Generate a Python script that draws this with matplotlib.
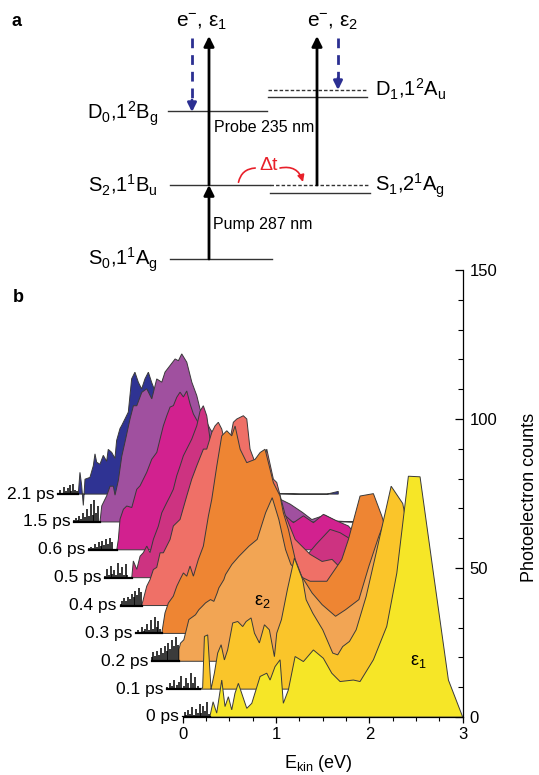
import numpy as np
import matplotlib
matplotlib.use("Agg")
import matplotlib.pyplot as plt
from matplotlib.patches import FancyArrowPatch

plt.rcParams["font.family"] = ["Liberation Sans", "DejaVu Sans"]
plt.rcParams["mathtext.fontset"] = "custom"
plt.rcParams["mathtext.rm"] = "Liberation Sans"
plt.rcParams["mathtext.it"] = "Liberation Sans:italic"
plt.rcParams["mathtext.bf"] = "Liberation Sans:bold"

# ---- panel b data: photoelectron spectra, energy (eV) and counts per delay ----
DELAYS = ["0 ps", "0.1 ps", "0.2 ps", "0.3 ps", "0.4 ps", "0.5 ps", "0.6 ps", "1.5 ps", "2.1 ps"]
COLORS = ["#f6e627", "#fac52a", "#f2a554", "#ee8533", "#ef7067",
          "#cd3381", "#d2218f", "#a0509f", "#2f3393"]
FILL_FROM = [0.29, 0.356, 0.292, 0.275, 0.227, 0.287, 0.293, 0.28, 0.214]

E_0PS = [0.0, 0.02, 0.04, 0.06, 0.08, 0.10, 0.12, 0.14, 0.16, 0.18, 0.20, 0.22, 0.24, 0.26, 0.28,
         0.29, 0.325, 0.364, 0.418, 0.453, 0.489, 0.525, 0.56, 0.596, 0.686, 0.74, 0.829, 0.9,
         0.936, 0.989, 1.043, 1.078, 1.132, 1.204, 1.293, 1.4, 1.507, 1.597, 1.686, 1.829, 1.9,
         2.043, 2.186, 2.294, 2.418, 2.543, 2.686, 2.847, 3.0]
C_0PS = [0.5, 1.8, 0.6, 2.4, 1.0, 3.2, 0.8, 2.6, 1.5, 4.2, 1.2, 3.6, 2.0, 5.0, 1.0,
         0, 5.1, 1.3, 12.4, 3.5, 6.8, 2.4, 8.0, 11.3, 2.9, 4.6, 13.6, 14.7,
         12.4, 16.9, 19.2, 4.6, 9.1, 20.3, 18.6, 22.5, 19.7, 14.7, 11.9, 12.4, 11.9,
         19.2, 30.4, 48.3, 80.8, 80.6, 48.3, 12.4, 0]

E_01PS = [0.0, 0.025, 0.05, 0.075, 0.1, 0.125, 0.15, 0.175, 0.2, 0.225, 0.25, 0.275, 0.3, 0.325,
          0.356, 0.38, 0.399, 0.434, 0.47, 0.506, 0.541, 0.578, 0.613, 0.648, 0.702, 0.756, 0.809,
          0.846, 0.899, 0.935, 0.988, 1.042, 1.095, 1.149, 1.174, 1.224, 1.288, 1.363, 1.452, 1.489,
          1.56, 1.667, 1.774, 1.827, 1.881, 1.953, 2.025, 2.132, 2.239, 2.4, 2.524, 2.703, 2.917, 3.0]
C_01PS = [0.8, 2.0, 1.0, 3.0, 1.5, 2.5, 4.5, 1.2, 3.8, 2.0, 5.5, 2.2, 4.0, 1.0,
          0, 0.5, 17.7, 18.2, 0, 5.4, 12.1, 14.9, 9.8, 13.2, 22.2, 22.7, 21.0,
          22.7, 23.9, 18.8, 15.5, 21.6, 19.9, 10.9, 18.8, 23.3, 33.4, 44.0, 36.7, 30.0,
          25.5, 19.9, 12.1, 11.5, 14.3, 16.0, 19.9, 31.1, 45.7, 68.1, 62.3, 33.4, 6.5, 0]

E_02PS = [0.0, 0.02, 0.04, 0.06, 0.08, 0.1, 0.12, 0.14, 0.16, 0.18, 0.2, 0.22, 0.24, 0.26, 0.28,
          0.292, 0.31, 0.345, 0.399, 0.47, 0.506, 0.541, 0.578, 0.631, 0.667, 0.702, 0.72, 0.774,
          0.792, 0.86, 0.935, 1.042, 1.131, 1.221, 1.292, 1.363, 1.435, 1.492, 1.596, 1.72, 1.827,
          1.971, 2.078, 2.221, 2.328, 2.435, 2.564, 2.703, 2.864, 3.0]
C_02PS = [1.5, 3.0, 1.8, 3.5, 2.2, 4.5, 2.8, 5.0, 3.5, 6.0, 4.0, 7.0, 5.0, 8.0, 5.5,
          4.0, 6.1, 7.2, 14.0, 15.6, 17.3, 18.4, 19.6, 20.7, 20.1, 22.9, 24.6, 27.4,
          29.1, 32.5, 35.2, 38.6, 40.9, 49.8, 54.9, 47.6, 37.5, 32.5, 29.1, 22.9, 19.0,
          15.1, 17.3, 20.7, 31.9, 42.0, 52.6, 47.6, 20.7, 0]

E_03PS = [0.0, 0.02, 0.04, 0.06, 0.08, 0.1, 0.12, 0.14, 0.16, 0.18, 0.2, 0.22, 0.24, 0.26,
          0.275, 0.31, 0.346, 0.399, 0.436, 0.471, 0.507, 0.543, 0.578, 0.614, 0.667, 0.721,
          0.775, 0.811, 0.865, 0.918, 0.972, 1.025, 1.061, 1.115, 1.186, 1.275, 1.329, 1.382,
          1.418, 1.471, 1.543, 1.578, 1.632, 1.706, 1.779, 1.865, 2.044, 2.204, 2.275, 2.4,
          2.543, 2.633, 2.776, 2.937, 3.0]
C_03PS = [0.5, 1.2, 0.6, 2.0, 0.8, 1.5, 3.0, 1.0, 4.5, 1.5, 5.6, 2.0, 4.0, 1.5,
          0, 6.9, 10.2, 12.5, 15.8, 18.1, 20.3, 19.2, 22.6, 19.2, 24.8, 29.3,
          39.4, 45.0, 56.2, 66.3, 68.0, 66.3, 69.6, 61.8, 57.3, 58.4, 60.7, 61.8,
          57.3, 50.6, 46.1, 40.5, 34.9, 24.8, 18.8, 17.5, 17.5, 24.8, 31.5, 46.1,
          46.9, 39.4, 24.8, 8.0, 0]

E_04PS = [0.0, 0.02, 0.04, 0.06, 0.08, 0.1, 0.12, 0.14, 0.16, 0.18, 0.2, 0.22,
          0.227, 0.281, 0.316, 0.352, 0.388, 0.424, 0.459, 0.531, 0.566, 0.638, 0.71, 0.763,
          0.817, 0.888, 0.924, 0.978, 1.013, 1.048, 1.085, 1.102, 1.138, 1.174, 1.209, 1.246,
          1.316, 1.353, 1.388, 1.442, 1.477, 1.514, 1.549, 1.567, 1.638, 1.674, 1.763, 1.871,
          2.031, 2.16, 2.267, 2.374, 2.514, 2.674, 2.835, 3.0]
C_04PS = [0.5, 1.5, 2.5, 1.5, 3.0, 2.2, 4.0, 3.0, 5.0, 3.5, 6.0, 4.5,
          0, 6.5, 8.7, 12.1, 12.8, 17.7, 17.7, 22.2, 26.7, 28.9, 36.8, 42.4,
          46.9, 52.5, 52.5, 58.1, 60.3, 61.5, 59.2, 56.9, 58.1, 55.8, 61.5, 62.6,
          63.7, 62.6, 52.5, 48.0, 46.9, 49.1, 50.2, 52.5, 42.4, 41.3, 30.6, 22.2,
          17.2, 14.8, 15.5, 12.1, 17.2, 28.9, 22.2, 0]

E_05PS = [0.0, 0.02, 0.04, 0.06, 0.08, 0.1, 0.12, 0.14, 0.16, 0.18, 0.2, 0.22, 0.24,
          0.287, 0.304, 0.341, 0.376, 0.411, 0.448, 0.483, 0.519, 0.572, 0.609, 0.662, 0.698,
          0.733, 0.769, 0.805, 0.84, 0.93, 0.984, 1.019, 1.054, 1.091, 1.126, 1.233, 1.394,
          1.555, 1.716, 1.877, 1.984, 2.144, 2.263, 2.412, 2.519, 2.608, 2.68, 2.841, 3.0]
C_05PS = [0.5, 3.0, 0.8, 4.0, 1.2, 2.5, 1.0, 5.0, 1.5, 3.5, 0.8, 4.5, 1.0,
          0, 5.6, 2.8, 7.2, 8.4, 10.6, 8.4, 12.9, 17.3, 21.8, 25.2, 27.4,
          29.7, 34.2, 37.5, 40.9, 46.5, 51.0, 55.9, 57.7, 54.3, 46.5, 36.4, 26.3,
          16.2, 11.2, 7.8, 5.0, 6.8, 11.2, 16.2, 15.1, 13.4, 7.8, 6.1, 0]

E_06PS = [0.0, 0.02, 0.04, 0.06, 0.08, 0.1, 0.12, 0.14, 0.16, 0.18, 0.2, 0.22, 0.24,
          0.293, 0.31, 0.328, 0.364, 0.4, 0.454, 0.507, 0.543, 0.614, 0.668, 0.722, 0.757,
          0.792, 0.829, 0.864, 0.9, 0.936, 0.971, 1.007, 1.043, 1.079, 1.114, 1.204, 1.347,
          1.508, 1.722, 1.936, 2.061, 2.186, 2.293, 2.4, 2.507, 2.651, 2.775, 2.901, 3.0]
C_06PS = [0.5, 1.0, 0.6, 1.8, 1.0, 2.5, 1.2, 3.0, 1.5, 3.5, 2.0, 4.0, 2.5,
          0, 3.5, 10.3, 13.6, 14.7, 14.2, 20.3, 21.5, 26.0, 30.4, 32.7, 37.2,
          41.6, 45.0, 47.9, 48.4, 51.2, 52.9, 51.3, 53.3, 48.9, 45.6, 40.5, 35.5,
          28.8, 20.3, 15.3, 12.5, 9.1, 11.4, 9.1, 11.9, 9.7, 8.0, 3.5, 0]

E_15PS = [0.0, 0.02, 0.04, 0.06, 0.08, 0.1, 0.12, 0.14, 0.16, 0.18, 0.2, 0.22, 0.24, 0.26,
          0.28, 0.299, 0.316, 0.352, 0.388, 0.423, 0.441, 0.477, 0.513, 0.549, 0.602, 0.638,
          0.674, 0.728, 0.781, 0.835, 0.888, 0.942, 0.977, 1.031, 1.085, 1.12, 1.156, 1.21,
          1.264, 1.317, 1.352, 1.46, 1.674, 1.889, 2.103, 2.317, 2.45, 2.55, 2.69, 2.81, 3.0]
C_15PS = [0.5, 1.2, 0.8, 2.0, 1.0, 3.0, 1.5, 4.5, 2.0, 6.0, 2.5, 7.5, 3.0, 5.5,
          0, 5.4, 6.5, 8.8, 12.0, 12.0, 9.0, 14.0, 22.0, 27.0, 34.6, 39.0,
          39.0, 43.5, 44.7, 41.3, 48.0, 46.9, 50.3, 52.5, 54.7, 54.1, 56.4, 53.6,
          46.9, 42.4, 37.9, 31.2, 21.1, 14.4, 9.3, 6.0, 3.2, 0.8, 2.3, 0.3, 0]

E_21PS = [0.0, 0.02, 0.04, 0.06, 0.08, 0.1, 0.12, 0.14, 0.16, 0.18, 0.2,
          0.214, 0.232, 0.25, 0.268, 0.286, 0.339, 0.375, 0.393, 0.411, 0.446, 0.482, 0.518,
          0.535, 0.572, 0.607, 0.625, 0.661, 0.679, 0.714, 0.75, 0.786, 0.821, 0.858, 0.893,
          0.929, 0.965, 1.0, 1.054, 1.089, 1.125, 1.143, 1.25, 1.411, 1.625, 1.839, 2.053,
          2.29, 2.59, 2.88, 3.0, 3.0]
C_21PS = [0.3, 1.5, 0.5, 2.5, 1.0, 2.0, 3.0, 1.0, 3.5, 1.5, 1.0,
          0, 7.3, 3.0, -3.8, 5.0, 5.6, 9.5, 13.5, 10.7, 10.0, 13.0, 11.0,
          15.0, 14.0, 12.0, 18.0, 22.0, 23.0, 25.2, 27.5, 38.7, 40.9, 37.5, 35.3,
          38.7, 40.9, 37.5, 33.1, 32.0, 38.7, 39.8, 32.0, 21.9, 13.5, 6.7, 2.4,
          0.3, 0, 0, 0.9, 0]

SPECTRA = [(E_0PS, C_0PS), (E_01PS, C_01PS), (E_02PS, C_02PS), (E_03PS, C_03PS),
           (E_04PS, C_04PS), (E_05PS, C_05PS), (E_06PS, C_06PS), (E_15PS, C_15PS),
           (E_21PS, C_21PS)]

DX = 1 / 6     # waterfall shift per trace (eV)
DY = 9.35      # waterfall shift per trace (counts)

fig = plt.figure(figsize=(5.39, 7.75), dpi=100)

# ---------------- panel a: level scheme (drawn in pixel coordinates) ----------------
ax0 = fig.add_axes([0, 0, 1, 1])
ax0.set_xlim(0, 539)
ax0.set_ylim(775, 0)
ax0.axis("off")

lev = dict(color="#333333", lw=1.0)
ax0.plot([168, 267], [111, 111], **lev)
ax0.plot([170, 270], [185, 185], **lev)
ax0.plot([170, 272], [259, 259], **lev)
ax0.plot([268, 367], [97, 97], **lev)
ax0.plot([270, 370], [193, 193], **lev)
ax0.plot([268, 367], [90, 90], color="#333333", lw=1.0, dashes=(2.5, 1.5))
ax0.plot([270, 370], [185, 185], color="#333333", lw=1.0, dashes=(2.5, 1.5))

arr = dict(arrowstyle="-|>", color="black", lw=2, mutation_scale=15, shrinkA=0, shrinkB=0)
ax0.annotate("", xy=(209, 185), xytext=(209, 259), arrowprops=arr)
ax0.annotate("", xy=(209, 36), xytext=(209, 185), arrowprops=arr)
ax0.annotate("", xy=(317, 36), xytext=(317, 185), arrowprops=arr)

blue = "#2b2f92"
ax0.plot([192, 192], [38, 101], color=blue, lw=2, dashes=(3.5, 2.5))
ax0.annotate("", xy=(192, 112), xytext=(192, 100),
             arrowprops=dict(arrowstyle="-|>", color=blue, lw=2, mutation_scale=13, shrinkA=0, shrinkB=0))
ax0.plot([338, 338], [38, 79], color=blue, lw=2, dashes=(3.5, 2.5))
ax0.annotate("", xy=(338, 90), xytext=(338, 78),
             arrowprops=dict(arrowstyle="-|>", color=blue, lw=2, mutation_scale=13, shrinkA=0, shrinkB=0))

ax0.text(17, 22, "a", fontsize=13, fontweight="bold", ha="center", va="center")
ax0.text(18, 298, "b", fontsize=13, fontweight="bold", ha="center", va="center")
ax0.text(202, 22, "e$^{-}$, ε$_1$", fontsize=15, ha="center", va="center")
ax0.text(333, 22, "e$^{-}$, ε$_2$", fontsize=15, ha="center", va="center")
ax0.text(158, 119, "D$_0$,1$^2$B$_\\mathrm{g}$", fontsize=14.5, ha="right", va="baseline")
ax0.text(158, 192, "S$_2$,1$^1$B$_\\mathrm{u}$", fontsize=14.5, ha="right", va="baseline")
ax0.text(158, 265, "S$_0$,1$^1$A$_\\mathrm{g}$", fontsize=14.5, ha="right", va="baseline")
ax0.text(375, 96, "D$_1$,1$^2$A$_\\mathrm{u}$", fontsize=14.5, ha="left", va="baseline")
ax0.text(375, 191, "S$_1$,2$^1$A$_\\mathrm{g}$", fontsize=14.5, ha="left", va="baseline")
ax0.text(214, 128, "Probe 235 nm", fontsize=11.5, ha="left", va="center")
ax0.text(213, 225, "Pump 287 nm", fontsize=11.5, ha="left", va="center")

red = "#e8202a"
ax0.text(269, 166, "Δt", fontsize=14, color=red, ha="center", va="center")
ax0.add_patch(FancyArrowPatch((238, 185), (258, 168), connectionstyle="arc3,rad=-0.45",
                              arrowstyle="-", color=red, lw=1.2))
ax0.add_patch(FancyArrowPatch((280, 168), (303, 182), connectionstyle="arc3,rad=-0.45",
                              arrowstyle="-|>", color=red, lw=1.2, mutation_scale=10,
                              shrinkA=0, shrinkB=0))

# ---------------- panel b: waterfall of spectra ----------------
ax = fig.add_axes([5.43 / 539, 58 / 775, 457.27 / 539, 447 / 775])
ax.patch.set_alpha(0)
ax.set_xlim(-1.9, 3.0)
ax.set_ylim(0, 150)

for i in reversed(range(len(SPECTRA))):
    raw_e = np.array(SPECTRA[i][0])
    e = raw_e - DX * i
    c = np.array(SPECTRA[i][1]) + DY * i
    base = DY * i
    z = 20 - 2 * i
    m = raw_e >= FILL_FROM[i]
    ef, cf = e[m], c[m]
    ax.fill(np.r_[ef[0], ef, ef[-1]], np.r_[base, cf, base],
            facecolor=COLORS[i], edgecolor="#3a3a3a", lw=0.7, zorder=z)
    # noisy onset below threshold: spikes on a thick baseline
    k = np.argmax(m)
    ax.vlines(e[:k], base, c[:k], color="black", lw=1.1, zorder=z + 1)
    ax.plot([e[0], e[k]], [base, base], color="black", lw=1.6, zorder=z + 1)
    ax.text(-DX * i - 0.04, base, DELAYS[i], fontsize=12.5, ha="right", va="center")

ax.text(0.85, 38.9, "ε$_2$", fontsize=13, ha="center", va="center", zorder=40)
ax.text(2.52, 18.5, "ε$_1$", fontsize=13, ha="center", va="center", zorder=40)

for s in ["left", "top"]:
    ax.spines[s].set_visible(False)
ax.spines["bottom"].set_bounds(0, 3)
ax.spines["right"].set_bounds(0, 150)
ax.spines["bottom"].set_linewidth(0.9)
ax.spines["right"].set_linewidth(0.9)
ax.set_xticks([0, 1, 2, 3])
ax.set_xticks(np.arange(0, 3.01, 0.25), minor=True)
ax.set_yticks([0, 50, 100, 150])
ax.set_yticks(np.arange(0, 151, 10), minor=True)
ax.yaxis.tick_right()
ax.tick_params(axis="x", which="major", direction="out", length=4, width=0.9, labelsize=12, pad=3)
ax.tick_params(axis="x", which="minor", direction="out", length=3, width=0.8)
ax.tick_params(axis="y", which="major", direction="in", length=6, width=0.9, labelsize=12, pad=5)
ax.tick_params(axis="y", which="minor", direction="in", length=3.5, width=0.8)

fig.text(318 / 539, 1 - 763 / 775, "E$_\\mathrm{kin}$ (eV)", fontsize=13, ha="center", va="center")
fig.text(530 / 539, 1 - 497 / 775, "Photoelectron counts", fontsize=13, rotation=90,
         ha="center", va="center")

fig.savefig("out.png", dpi=100)
